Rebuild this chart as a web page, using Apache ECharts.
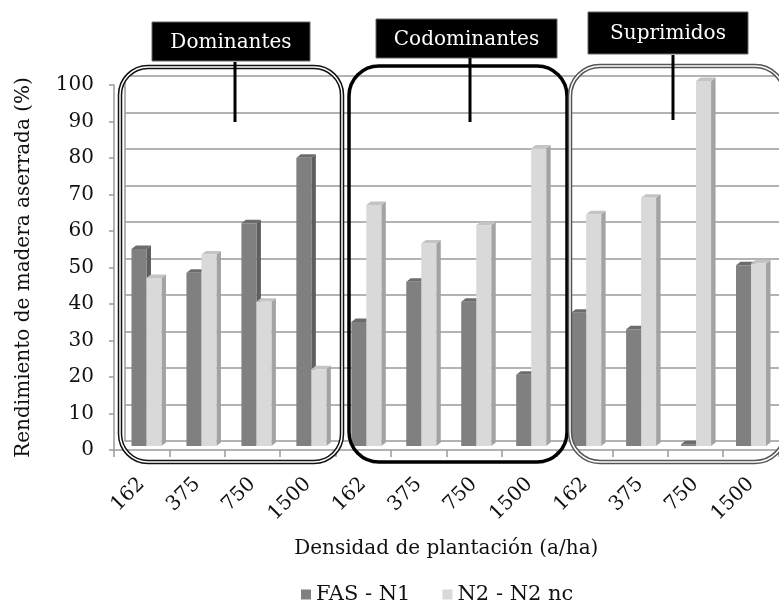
<!DOCTYPE html>
<html>
<head>
<meta charset="utf-8">
<script src="https://cdn.jsdelivr.net/npm/echarts@6/dist/echarts.min.js"></script>
<style>
  html, body { margin: 0; padding: 0; background: #fff; }
  #chart { width: 779px; height: 607px; }
</style>
</head>
<body>
<div id="chart"></div>
<script>
const densities = ['162', '375', '750', '1500', '162', '375', '750', '1500', '162', '375', '750', '1500']
const fasN1 = [54, 47.5, 61, 79, 34, 45, 39.5, 19.5, 36.5, 32, 0.5, 49.5]
const n2N2nc = [46, 52.5, 39.5, 21, 66, 55.5, 60.5, 81.5, 63.5, 68, 100, 50]
const yTicks = [0, 10, 20, 30, 40, 50, 60, 70, 80, 90, 100]
const groups = ['Dominantes', 'Codominantes', 'Suprimidos']

const FONT = '"DejaVu Serif", "Liberation Serif", serif'
const GRID_COLOR = '#9a9a9a'

// front face / right side / top cap shades for each series
const shades = [
  { front: '#808080', side: '#5e5e5e', top: '#6c6c6c' },
  { front: '#d9d9d9', side: '#a3a3a3', top: '#c4c4c4' },
]

function bar3d(seriesIdx) {
  const s = shades[seriesIdx]
  return function (params, api) {
    const cat = api.value(0)
    const topPt = api.coord([cat, api.value(1)])
    const basePt = api.coord([cat, 0])
    const w = 15
    const dx = 4.5
    const dy = -3.5
    const left = topPt[0] - 15.5 + seriesIdx * 15
    const top = topPt[1]
    const base = basePt[1]
    return {
      type: 'group',
      children: [
        {
          type: 'polygon',
          shape: { points: [[left + w, top], [left + w + dx, top + dy], [left + w + dx, base + dy], [left + w, base]] },
          style: { fill: s.side },
        },
        {
          type: 'polygon',
          shape: { points: [[left, top], [left + dx, top + dy], [left + w + dx, top + dy], [left + w, top]] },
          style: { fill: s.top },
        },
        {
          type: 'rect',
          shape: { x: left, y: top, width: w, height: base - top },
          style: { fill: s.front },
        },
      ],
    }
  }
}

function roundBox(x, y, w, h, r, kind) {
  if (kind === 'thick') {
    return [{
      type: 'rect', z: 100,
      shape: { x, y, width: w, height: h, r },
      style: { fill: null, stroke: '#000', lineWidth: 3.5 },
    }]
  }
  const outer = kind === 'gray' ? '#555' : '#111'
  return [
    {
      type: 'rect', z: 100,
      shape: { x, y, width: w, height: h, r },
      style: { fill: null, stroke: outer, lineWidth: 4.5 },
    },
    {
      type: 'rect', z: 101,
      shape: { x, y, width: w, height: h, r },
      style: { fill: null, stroke: '#fff', lineWidth: 1.5 },
    },
  ]
}

function labelBox(x, y, w, h, text, lineX, lineY1, lineY2) {
  return [
    {
      type: 'rect', z: 110,
      shape: { x, y, width: w, height: h },
      style: { fill: '#000', stroke: '#666', lineWidth: 1 },
    },
    {
      type: 'text', z: 111,
      x: x + w / 2, y: y + h / 2 + 1,
      style: { text, fill: '#fff', font: '20px ' + FONT, align: 'center', verticalAlign: 'middle' },
    },
    {
      type: 'line', z: 111,
      shape: { x1: lineX, y1: lineY1, x2: lineX, y2: lineY2 },
      style: { stroke: '#000', lineWidth: 3 },
    },
  ]
}

const chart = echarts.init(document.getElementById('chart'), null, { renderer: 'canvas' })

const hiddenCat = (gridIndex) => ({
  type: 'category', gridIndex, data: densities, show: false,
})
const hiddenVal = (gridIndex) => ({
  type: 'value', gridIndex, min: 0, max: 100, interval: 10, show: false,
})

chart.setOption({
  animation: false,
  backgroundColor: '#fff',
  textStyle: { fontFamily: FONT },
  grid: [
    // back wall (gridlines)
    { left: 125, right: 0, top: 76, bottom: 166 },
    // front axes (labels)
    { left: 114, right: 0.5, top: 85, bottom: 157 },
    // bars, mid depth
    { left: 119.5, right: -5, top: 81, bottom: 161 },
  ],
  xAxis: [
    hiddenCat(0),
    {
      type: 'category',
      gridIndex: 1,
      data: densities,
      name: 'Densidad de plantación (a/ha)',
      nameLocation: 'middle',
      nameGap: 89,
      nameTextStyle: { color: '#111', fontSize: 20, fontFamily: FONT },
      axisLine: { lineStyle: { color: GRID_COLOR, width: 1.5 } },
      axisTick: { show: true, length: 7, lineStyle: { color: GRID_COLOR, width: 1.5 } },
      axisLabel: { color: '#111', fontSize: 20, fontFamily: FONT, rotate: 45, margin: 31, interval: 0 },
      splitLine: { show: false },
    },
    hiddenCat(2),
  ],
  yAxis: [
    {
      type: 'value', gridIndex: 0, min: 0, max: 100, interval: 10,
      axisLine: { show: true, lineStyle: { color: GRID_COLOR, width: 1.5 } },
      axisTick: { show: false },
      axisLabel: { show: false },
      splitLine: { show: true, lineStyle: { color: GRID_COLOR, width: 1.5 } },
    },
    {
      type: 'value', gridIndex: 1, min: 0, max: 100, interval: 10,
      name: 'Rendimiento de madera aserrada (%)',
      nameLocation: 'middle',
      nameGap: 80,
      nameTextStyle: { color: '#111', fontSize: 20, fontFamily: FONT },
      axisLine: { show: true, lineStyle: { color: GRID_COLOR, width: 1.5 } },
      axisTick: { show: true, length: 5, lineStyle: { color: GRID_COLOR, width: 1.5 } },
      axisLabel: {
        color: '#111', fontSize: 20, fontFamily: FONT, margin: 20,
        formatter: (v) => (yTicks.includes(v) ? String(v) : ''),
      },
      splitLine: { show: false },
    },
    hiddenVal(2),
  ],
  legend: {
    left: 296,
    top: 579,
    itemWidth: 10,
    itemHeight: 10,
    itemGap: 32,
    icon: 'rect',
    textStyle: { color: '#111', fontSize: 21, fontFamily: FONT },
    data: ['FAS - N1', 'N2 - N2 nc'],
  },
  series: [
    {
      name: 'FAS - N1',
      type: 'custom',
      xAxisIndex: 2,
      yAxisIndex: 2,
      clip: false,
      itemStyle: { color: shades[0].front },
      renderItem: bar3d(0),
      data: fasN1.map((v, i) => [i, v]),
    },
    {
      name: 'N2 - N2 nc',
      type: 'custom',
      xAxisIndex: 2,
      yAxisIndex: 2,
      clip: false,
      itemStyle: { color: shades[1].front },
      renderItem: bar3d(1),
      data: n2N2nc.map((v, i) => [i, v]),
    },
  ],
  graphic: [
    ...roundBox(120, 67, 222, 395, 28, 'double'),
    ...roundBox(349, 66, 218, 396, 30, 'thick'),
    ...roundBox(570, 66, 215, 396, 30, 'gray'),
    ...labelBox(152, 22, 158, 39, groups[0], 235, 62, 122),
    ...labelBox(376, 19, 181, 39, groups[1], 470, 58, 122),
    ...labelBox(588, 12, 160, 42, groups[2], 673, 55, 120),
  ],
})
</script>
</body>
</html>
